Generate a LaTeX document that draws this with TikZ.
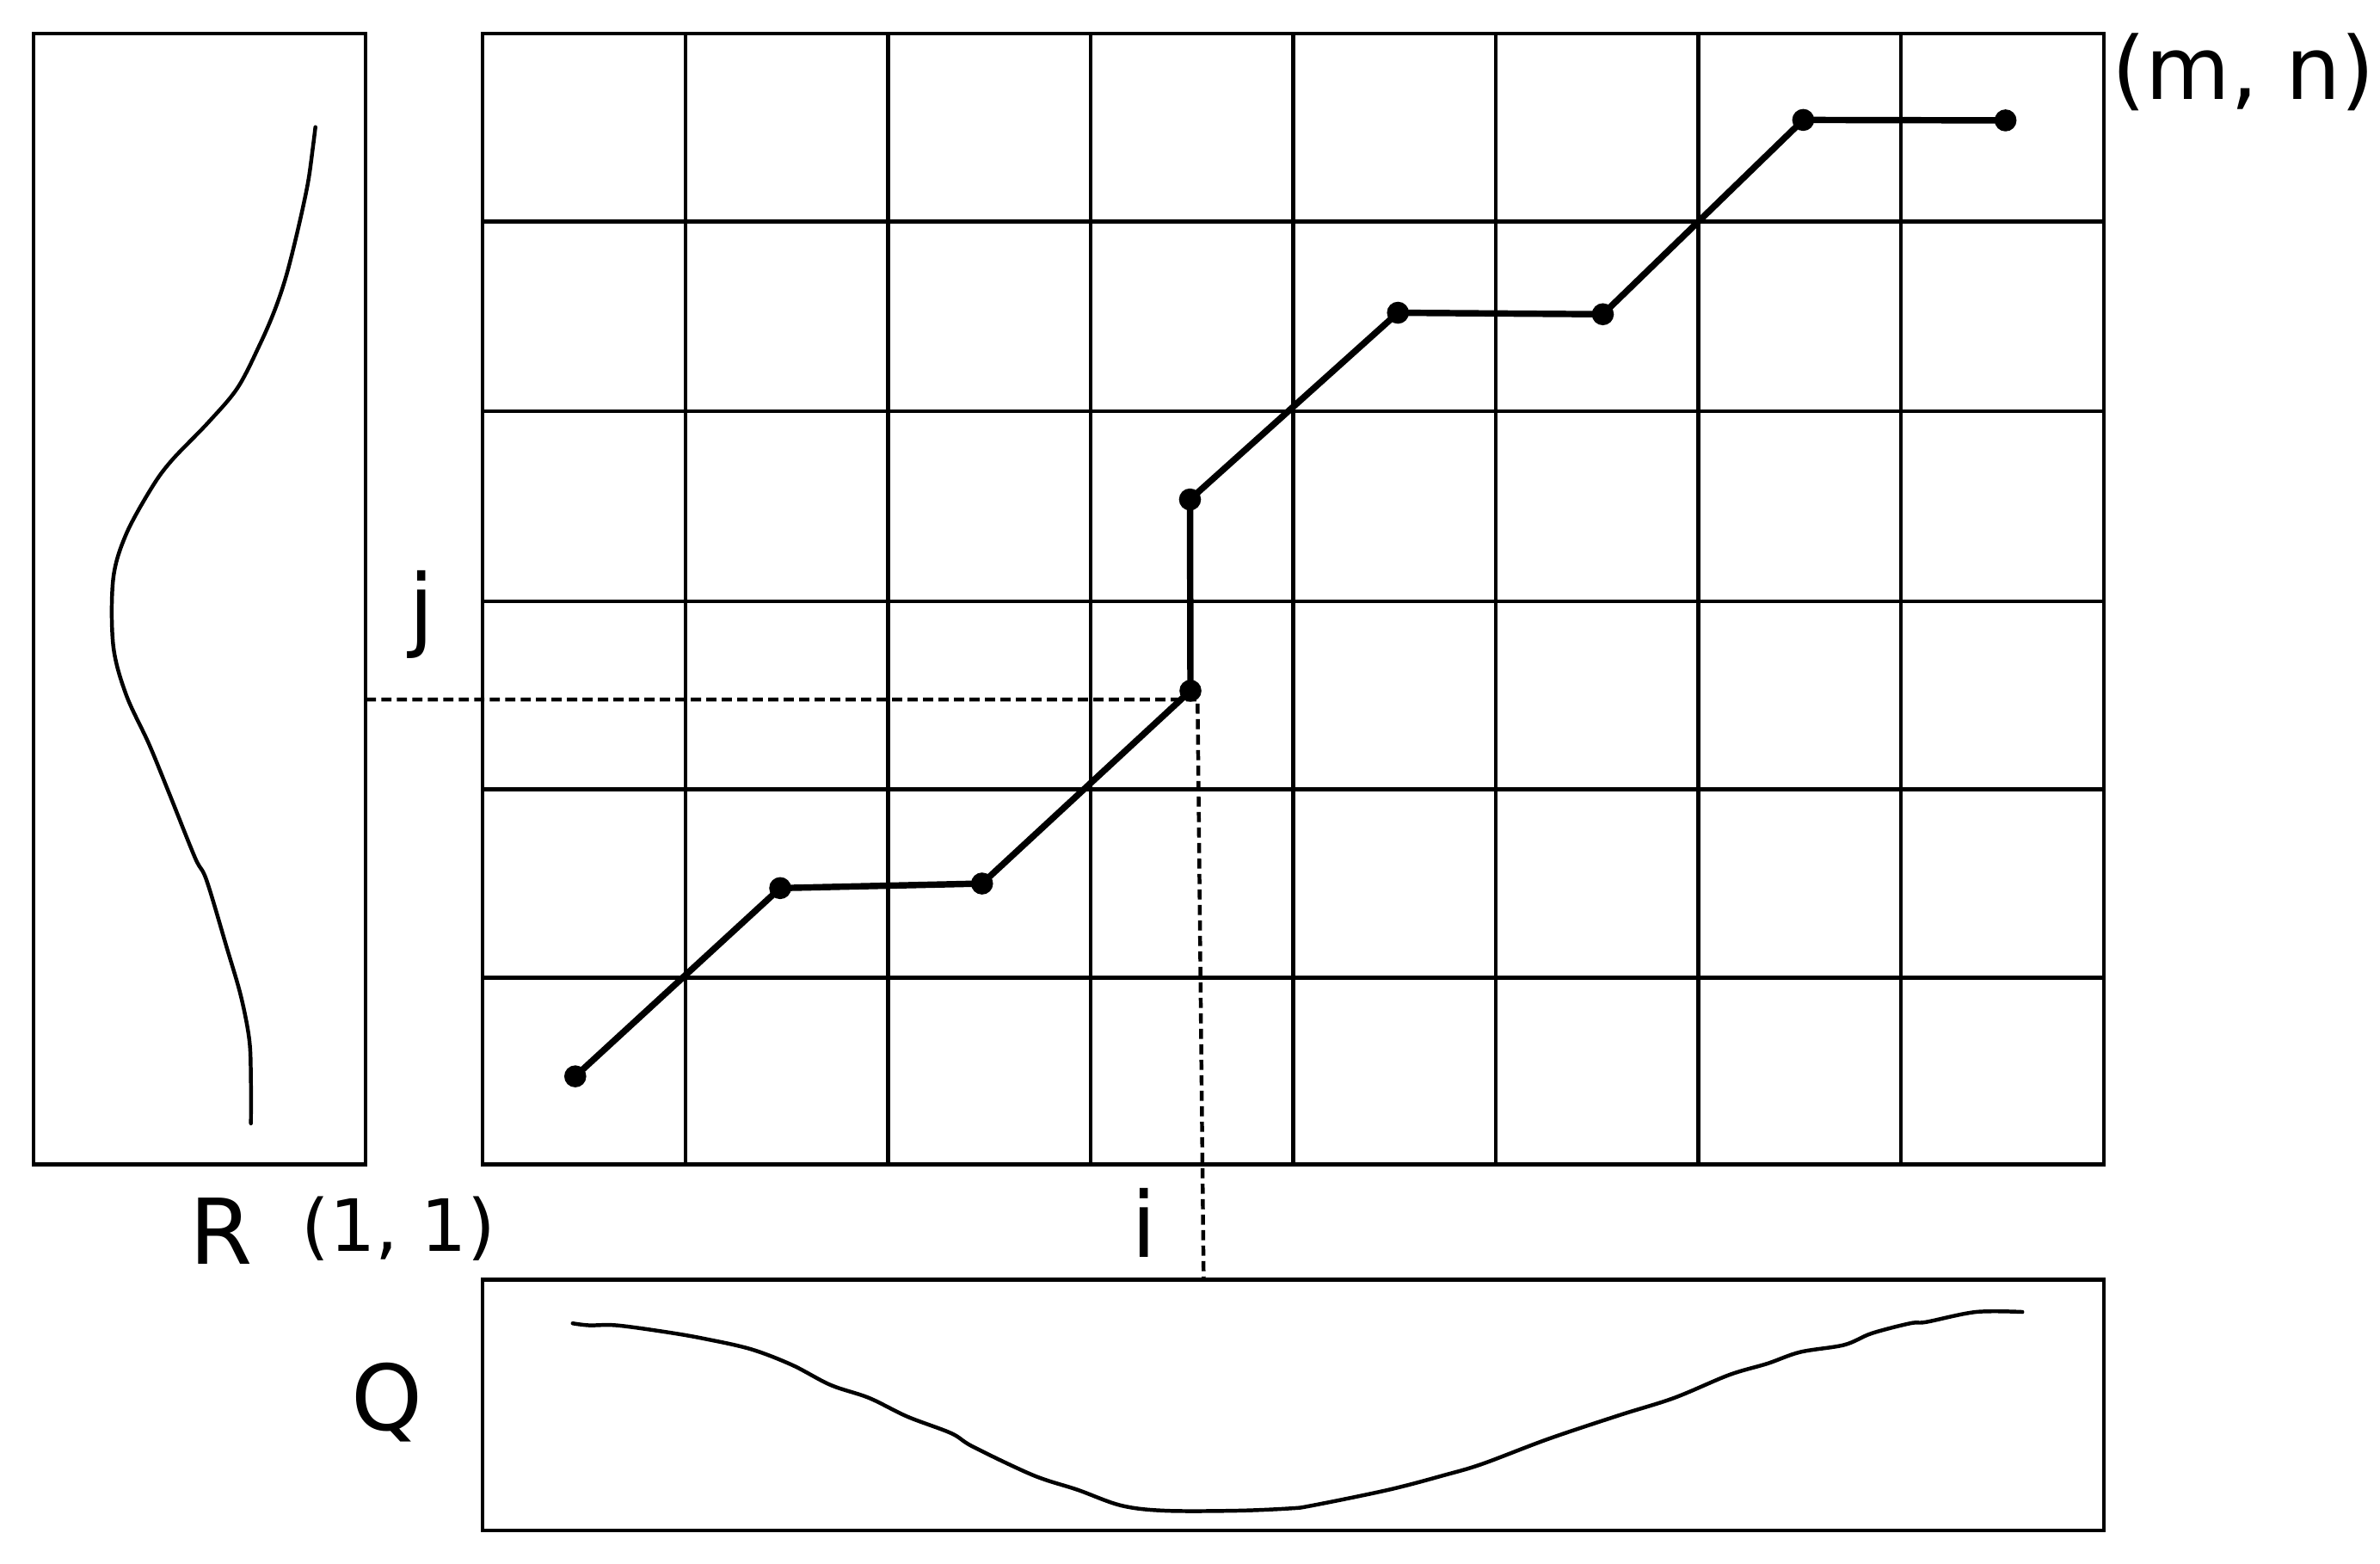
\documentclass[tikz,border=0pt]{standalone}
\usepackage{fontspec}
\setmainfont{DejaVu Sans}
\begin{document}
\begin{tikzpicture}[x=0.01cm,y=-0.01cm,
  thinline/.style={line width=0.7pt},
  pathline/.style={line width=1.2pt, line join=round},
  curve/.style={line width=0.72pt, line join=round, line cap=round},
  dot/.style={circle, fill=black, inner sep=0pt, minimum size=0.145cm},
  guide/.style={line width=0.72pt, dash pattern=on 1.9pt off 1pt},
  lbl/.style={inner sep=0pt, font=\fontsize{17}{20}\selectfont},
  mnlbl/.style={inner sep=0pt, font=\fontsize{16.3}{19}\selectfont},
  smalllbl/.style={inner sep=0pt, font=\fontsize{13.5}{16}\selectfont}]
\useasboundingbox (0,0) rectangle (1568,1030);

% left box R
\draw[thinline] (22,22) rectangle (241,767);
% bottom box Q
\draw[thinline] (318,843) rectangle (1386,1008);
% grid
\draw[thinline] (318,22) rectangle (1386,767);
\foreach \x in {451.5,585,718.5,852,985.5,1119,1252.5}
  \draw[thinline] (\x,22) -- (\x,767);
\foreach \y in {146,271,396,520,644}
  \draw[thinline] (318,\y) -- (1386,\y);

% R curve
\draw[curve] plot[smooth, tension=0.55] coordinates {
  (207.8,83.7) (206,98.2) (202.8,120.9) (196.3,151.1) (188.7,181.3)
  (181.1,204) (171.3,226.7) (156.5,255.5) (137,278.5) (113.3,303.1)
  (100.1,321) (83.1,351.9) (74.6,381.2) (74.6,425.1) (83.1,457.6)
  (98.2,490.2) (111.5,522.7) (128.5,565) (136,579.6) (149.2,623.5)
  (158.7,656.1) (164.3,685.3) (165.3,712) (165.3,740)};

% Q curve
\draw[curve] plot[smooth, tension=0.55] coordinates {
  (377.3,871.7) (388.2,873) (406.2,873) (438.7,877.4) (464,881.8)
  (494.7,888.7) (521.8,899.1) (547.2,912.3) (572.5,920.8) (597.7,933.1)
  (626.7,944.1) (641.1,953) (680.8,971.8) (709.8,981.3) (738.7,991.7)
  (767.6,995.1) (814.6,995.1) (850,993.6) (864.5,991.7) (915,981.3)
  (951.2,971.8) (976.6,964.3) (1019.9,947.9) (1066.9,932.2) (1103,920.8)
  (1139.1,905.7) (1164.4,898.2) (1186.1,890.6) (1215,885.9) (1233.1,878.3)
  (1258.4,871.7) (1269.2,870.8) (1301.8,864.2) (1332.4,864.2)};

% dashed guides
\coordinate (jl) at (241,460.8);
\coordinate (ij) at (789,460.8);
\coordinate (ib) at (793,843);
\draw[guide] (jl) -- (ij) -- (ib);

% warping path
\node[dot] (p1) at (379,709) {};
\node[dot] (p2) at (514,585) {};
\node[dot] (p3) at (647,582) {};
\node[dot] (p4) at (784.3,455) {};
\node[dot] (p5) at (784,329) {};
\node[dot] (p6) at (921,206) {};
\node[dot] (p7) at (1056,207) {};
\node[dot] (p8) at (1188,79) {};
\node[dot] (p9) at (1321.3,79.3) {};
\draw[pathline] (p1.center) -- (p2.center) -- (p3.center) -- (p4.center)
  -- (p5.center) -- (p6.center) -- (p7.center) -- (p8.center) -- (p9.center);

% labels
\node[mnlbl, anchor=base] (mn) at (1478,65.2) {(m, n)};
\node[lbl, anchor=base] (j) at (278,421.5) {j};
\node[lbl, anchor=base] (R) at (146,833) {R};
\node[smalllbl, anchor=base] (one) at (262.5,824) {(1, 1)};
\node[lbl, anchor=base] (i) at (753.7,828) {i};
\node[lbl, anchor=base] (Q) at (255,942) {Q};
\end{tikzpicture}
\end{document}
